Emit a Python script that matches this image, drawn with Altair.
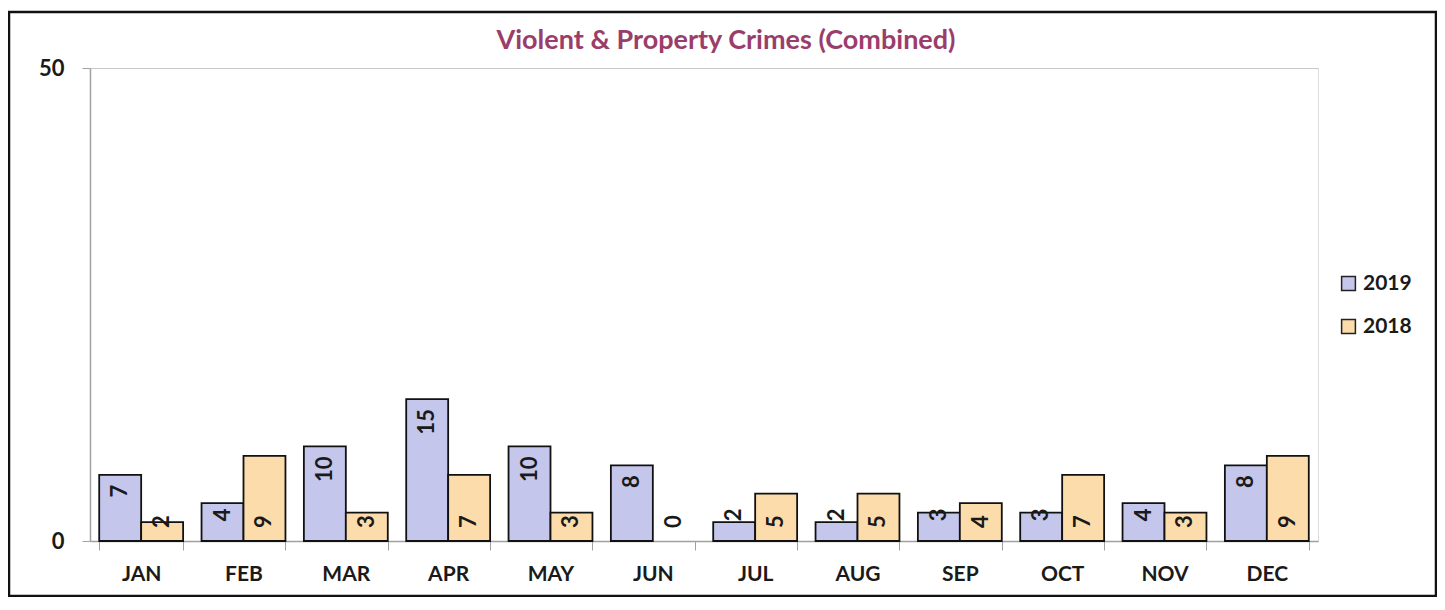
import altair as alt
import pandas as pd

months = ["JAN", "FEB", "MAR", "APR", "MAY", "JUN", "JUL", "AUG", "SEP", "OCT", "NOV", "DEC"]
years = ["2019", "2018"]
values_2019 = [7, 4, 10, 15, 10, 8, 2, 2, 3, 3, 4, 8]
values_2018 = [2, 9, 3, 7, 3, 0, 5, 5, 4, 7, 3, 9]
colors = ["#c4c6ec", "#fddcab"]
title_text = "Violent & Property Crimes (Combined)"

rows = []
for m, a, b in zip(months, values_2019, values_2018):
    rows.append({"month": m, "year": "2019", "value": a})
    rows.append({"month": m, "year": "2018", "value": b})
df = pd.DataFrame(rows)

FONT = "Lato"

x_enc = alt.X("month:N", sort=months, title=None,
              scale=alt.Scale(paddingInner=0.18, paddingOuter=0.09),
              axis=alt.Axis(labelAngle=0, labelFontSize=21, labelFontWeight="bold",
                            labelColor="#1a1a1a", labelPadding=13, tickBand="extent",
                            tickSize=9, tickColor="#a0a0a0", domainColor="#a0a0a0",
                            domainWidth=1.5, labelFont=FONT))
xo_enc = alt.XOffset("year:N", scale=alt.Scale(domain=years, paddingInner=0, paddingOuter=0))
y_scale = alt.Scale(domain=[0, 50], nice=False)

base = alt.Chart(df)

bars = base.mark_bar(stroke="#111111", strokeWidth=1.8).encode(
    x=x_enc,
    xOffset=xo_enc,
    y=alt.Y("value:Q", scale=y_scale, title=None,
            axis=alt.Axis(values=[0, 50], labelFontSize=22, labelFontWeight="bold",
                          labelColor="#1a1a1a", labelPadding=18, tickSize=8,
                          tickColor="#a0a0a0", domainColor="#a0a0a0", domainWidth=1.5,
                          grid=True, gridColor="#c8c8c8", labelFont=FONT)),
    color=alt.Color("year:N", scale=alt.Scale(domain=years, range=colors),
                    legend=alt.Legend(title=None, orient="none", legendX=1248, legendY=205,
                                      symbolType="square", symbolSize=190,
                                      symbolStrokeColor="#222222", symbolStrokeWidth=1.5,
                                      labelFontSize=21, labelFontWeight="bold",
                                      labelColor="#1a1a1a", rowPadding=21, labelOffset=4,
                                      labelFont=FONT)),
    strokeOpacity=alt.condition(alt.datum.value > 0, alt.value(1), alt.value(0)),
)

labels_2019 = base.transform_filter(alt.datum.year == "2019").transform_calculate(
    label_pos="max(datum.value, 4.5)"
).mark_text(
    angle=270, align="right", baseline="middle", dx=-10, fontSize=22,
    fontWeight="bold", color="#1a1a1a", font=FONT
).encode(x=alt.X("month:N", sort=months), xOffset=xo_enc,
         y=alt.Y("label_pos:Q", scale=y_scale), text="value:Q")

labels_2018 = base.transform_filter(alt.datum.year == "2018").mark_text(
    angle=270, align="left", baseline="middle", dx=13, fontSize=22,
    fontWeight="bold", color="#1a1a1a", font=FONT
).encode(x=alt.X("month:N", sort=months), xOffset=xo_enc,
         y=alt.datum(0), text="value:Q")

title = alt.Chart(alt.Data(values=[{"t": title_text}])).mark_text(
    fontSize=27, font=FONT, fontWeight="bold", color="#9b3d6b",
    align="center", baseline="middle"
).encode(x=alt.value(636), y=alt.value(-27), text="t:N")

frame = alt.Chart(alt.Data(values=[{}])).mark_rect(
    fillOpacity=0, stroke="#111111", strokeWidth=2.5
).encode(x=alt.value(-81), x2=alt.value(1346), y=alt.value(-56), y2=alt.value(528))

chart = alt.layer(bars, labels_2019, labels_2018, title, frame).properties(
    width=1228, height=473,
    autosize=alt.AutoSizeParams(type="none"),
    padding={"left": 82, "top": 60, "right": 119, "bottom": 56},
).configure_view(stroke=None).configure(background="white")

chart.save("out.html", embed_options={"renderer": "svg", "actions": False})
